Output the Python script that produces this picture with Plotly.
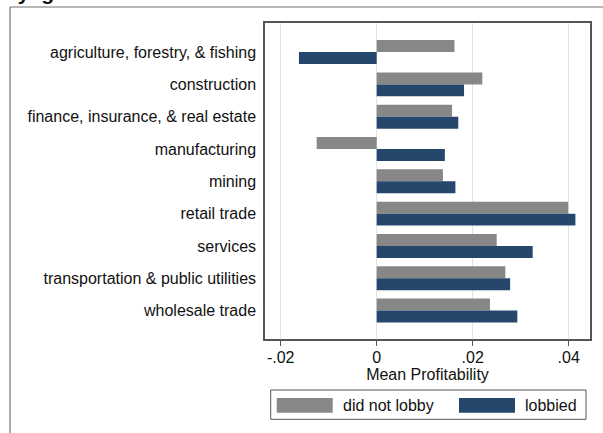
import plotly.graph_objects as go

categories = [
    "agriculture, forestry, & fishing",
    "construction",
    "finance, insurance, & real estate",
    "manufacturing",
    "mining",
    "retail trade",
    "services",
    "transportation & public utilities",
    "wholesale trade",
]
did_not_lobby = [0.0162, 0.0220, 0.0157, -0.0125, 0.0138, 0.0399, 0.0250, 0.0268, 0.0236]
lobbied = [-0.0162, 0.0182, 0.0170, 0.0142, 0.0164, 0.0414, 0.0325, 0.0278, 0.0293]
x_tickvals = [-0.02, 0, 0.02, 0.04]
x_ticktext = ["-.02", "0", ".02", ".04"]

GRAY = "#878787"
BLUE = "#26476c"
FONT = "Liberation Sans, Arial, Helvetica, sans-serif"

fig = go.Figure()
fig.add_trace(go.Bar(y=categories, x=did_not_lobby, orientation="h", name="did not lobby",
                     marker=dict(color=GRAY, line=dict(width=0))))
fig.add_trace(go.Bar(y=categories, x=lobbied, orientation="h", name="lobbied",
                     marker=dict(color=BLUE, line=dict(width=0))))

W, H = 603, 433
L, R, T, B = 265, 13, 23, 94
pw, ph = W - L - R, H - T - B

def px(x):
    return (x - L) / pw

def py(y):
    return (H - B - y) / ph

shapes = [
    # outer frame (cropped)
    dict(type="line", xref="paper", yref="paper", x0=px(10), x1=px(610), y0=py(7), y1=py(7),
         line=dict(color="#707070", width=1.2)),
    dict(type="line", xref="paper", yref="paper", x0=px(10), x1=px(10), y0=py(7), y1=py(440),
         line=dict(color="#707070", width=1.2)),
    # legend box
    dict(type="rect", xref="paper", yref="paper", x0=px(270.7), x1=px(586), y0=py(419.3), y1=py(390),
         line=dict(color="#555555", width=1), fillcolor="white"),
    dict(type="rect", xref="paper", yref="paper", x0=px(276.7), x1=px(332.7), y0=py(412.7), y1=py(398),
         line=dict(width=0), fillcolor=GRAY),
    dict(type="rect", xref="paper", yref="paper", x0=px(459), x1=px(515), y0=py(412.7), y1=py(398),
         line=dict(width=0), fillcolor=BLUE),
]
annotations = [
    dict(text="did not lobby", xref="paper", yref="paper", x=px(340.5), y=py(405.5),
         xanchor="left", yanchor="middle", showarrow=False, font=dict(size=16, color="#111", family=FONT)),
    dict(text="lobbied", xref="paper", yref="paper", x=px(522.5), y=py(405.5),
         xanchor="left", yanchor="middle", showarrow=False, font=dict(size=16, color="#111", family=FONT)),
    dict(text="<b>by ig</b>", xref="paper", yref="paper", x=px(3), y=py(6),
         xanchor="left", yanchor="bottom", showarrow=False, font=dict(size=21, color="#111", family=FONT)),
]

fig.update_layout(
    width=W, height=H,
    margin=dict(l=L, r=R, t=T, b=B),
    paper_bgcolor="white", plot_bgcolor="white",
    barmode="group", bargap=0.26, bargroupgap=0,
    showlegend=False,
    font=dict(family=FONT, size=16, color="#111"),
    shapes=shapes, annotations=annotations,
    xaxis=dict(range=[-0.02327, 0.04444], tickvals=x_tickvals, ticktext=x_ticktext,
               showgrid=True, gridcolor="#e3e3e3", gridwidth=1, zeroline=False,
               showline=True, linecolor="#555555", linewidth=1.5, mirror=True,
               ticks="outside", ticklen=5, tickcolor="#555555", ticklabelstandoff=-2,
               title=dict(text="Mean Profitability", standoff=0, font=dict(size=16)),
               tickfont=dict(size=16)),
    yaxis=dict(range=[8.88, -0.9], type="category", showgrid=False, zeroline=False,
               showline=True, linecolor="#555555", linewidth=1.5, mirror=True,
               ticks="", tickfont=dict(size=16), ticklabelstandoff=4),
)

fig.write_html(
    "out.html",
    config={"displayModeBar": False},
    post_script="document.body.style.margin='0';document.body.style.overflow='hidden';",
)
